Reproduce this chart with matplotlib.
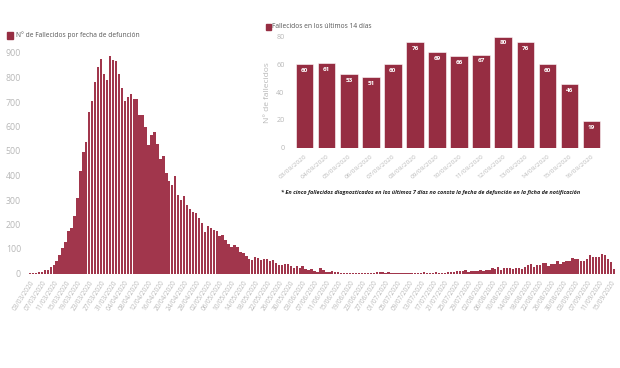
import matplotlib
matplotlib.use("Agg")
import matplotlib.pyplot as plt
import numpy as np
import pandas as pd

# ==============================
# DATOS (fallecidos por fecha de defunción)
# ==============================
marzo = [1, 2, 2, 5, 5, 14, 15, 25, 34, 51, 77, 104, 129, 175, 186, 236, 308, 420,
         497, 538, 660, 705, 782, 842, 877, 814, 788, 889, 870]          # 03/03 - 31/03
abril = [868, 815, 759, 705, 722, 733, 712, 712, 645, 645, 596, 525, 566, 578, 529,
         467, 478, 412, 377, 360, 399, 319, 300, 315, 281, 262, 251, 248, 225, 207]
mayo = [171, 193, 185, 177, 175, 152, 159, 138, 122, 107, 118, 107, 86, 84, 70, 59,
        56, 67, 62, 54, 60, 60, 52, 54, 41, 34, 33, 37, 37, 30, 23]
junio = [31, 21, 31, 17, 14, 17, 12, 8, 24, 14, 8, 8, 9, 8, 6, 4, 4, 3, 2, 4, 2, 1,
         3, 2, 1, 3, 2, 6, 7, 5]
julio = [2, 5, 2, 1, 3, 2, 1, 2, 3, 2, 1, 2, 3, 6, 2, 1, 3, 5, 4, 3, 4, 6, 8, 8, 9,
         10, 12, 14, 7, 10, 12]
agosto = [9, 13, 11, 15, 14, 24, 18, 28, 14, 21, 21, 21, 18, 24, 21, 17, 28, 35, 37,
          26, 33, 33, 41, 41, 32, 37, 37, 52, 37, 48, 52]
septiembre_ini = [52, 65]  # 01/09 - 02/09

# últimos 14 días (03/09 - 16/09)
ultimos_14 = [60, 61, 53, 51, 60, 76, 69, 66, 67, 80, 76, 60, 46, 19]

fallecidos = marzo + abril + mayo + junio + julio + agosto + septiembre_ini + ultimos_14
fechas = pd.date_range("2020-03-03", periods=len(fallecidos), freq="D")
fechas_14 = fechas[-14:]

COLOR = "#962d42"
COLOR_MAIN = "#a1364c"
GRIS = "#b8b8b8"
plt.rcParams["font.family"] = ["Open Sans", "DejaVu Sans"]

fig = plt.figure(figsize=(6.2, 3.68), dpi=100)

# ==============================
# GRÁFICO PRINCIPAL
# ==============================
W, H = 620, 368
ax = fig.add_axes([28 / W, 1 - 273.5 / H, (618 - 28) / W, (273.5 - 53) / H])
x = np.arange(len(fallecidos))
ax.bar(x, fallecidos, width=0.8, color=COLOR_MAIN, linewidth=0)
ax.set_xlim(-0.67, 198.4)
ax.set_ylim(0, 900)
ax.set_yticks(range(0, 901, 100))
ax.set_xticks(x[::4])
ax.set_xticklabels([f.strftime("%d/%m/%Y") for f in fechas[::4]], rotation=57,
                   ha="right", rotation_mode="anchor")
ax.tick_params(axis="x", labelsize=4.7, colors=GRIS, length=0, pad=4)
ax.tick_params(axis="y", labelsize=6.3, colors=GRIS, length=0, pad=5)
for s in ax.spines.values():
    s.set_visible(False)

fig.patches.append(plt.Rectangle((7 / W, 1 - 39 / H), 6 / W, 7 / H,
                                 transform=fig.transFigure, color=COLOR))
fig.text(15.5 / W, 1 - 35.5 / H, "N° de Fallecidos por fecha de defunción",
         fontsize=4.8, color="#555555", va="center")

# ==============================
# GRÁFICO INSERTADO (últimos 14 días)
# ==============================
ax2 = fig.add_axes([291.5 / W, 1 - 147.7 / H, (604.6 - 291.5) / W, (147.7 - 36.7) / H])
ax2.patch.set_alpha(0)
x2 = np.arange(len(ultimos_14))
ax2.bar(x2, ultimos_14, width=0.79, color=COLOR, edgecolor="white", linewidth=0.4)
ax2.set_xlim(-0.6, 13.6)
ax2.set_ylim(0, 80)
ax2.set_yticks(range(0, 81, 20))
ax2.set_xticks(x2)
ax2.set_xticklabels([f.strftime("%d/%m/%Y") for f in fechas_14], rotation=40,
                    ha="right", rotation_mode="anchor")
ax2.tick_params(axis="x", labelsize=4.6, colors=GRIS, length=0, pad=4)
ax2.tick_params(axis="y", labelsize=5.2, colors=GRIS, length=0, pad=5)
ax2.set_ylabel("N° de fallecidos", fontsize=6, color=GRIS, labelpad=4)
for s in ax2.spines.values():
    s.set_visible(False)
for xi, v in zip(x2, ultimos_14):
    ax2.text(xi, v - 4.5, str(v), ha="center", va="center", fontsize=4.6,
             color="white", fontweight="bold")

fig.patches.append(plt.Rectangle((266 / W, 1 - 30 / H), 4.5 / W, 5.5 / H,
                                 transform=fig.transFigure, color=COLOR))
fig.text(272 / W, 1 - 27 / H, "Fallecidos en los últimos 14 días",
         fontsize=4.8, color="#555555", va="center")

fig.text(281 / W, 1 - 192.5 / H,
         "* En cinco fallecidos diagnosticados en los últimos 7 días no consta la fecha "
         "de defunción en la ficha de notificación",
         fontsize=4.0, color="#222222", style="italic", fontweight="bold", va="center")

fig.savefig("out.png", dpi=100)
